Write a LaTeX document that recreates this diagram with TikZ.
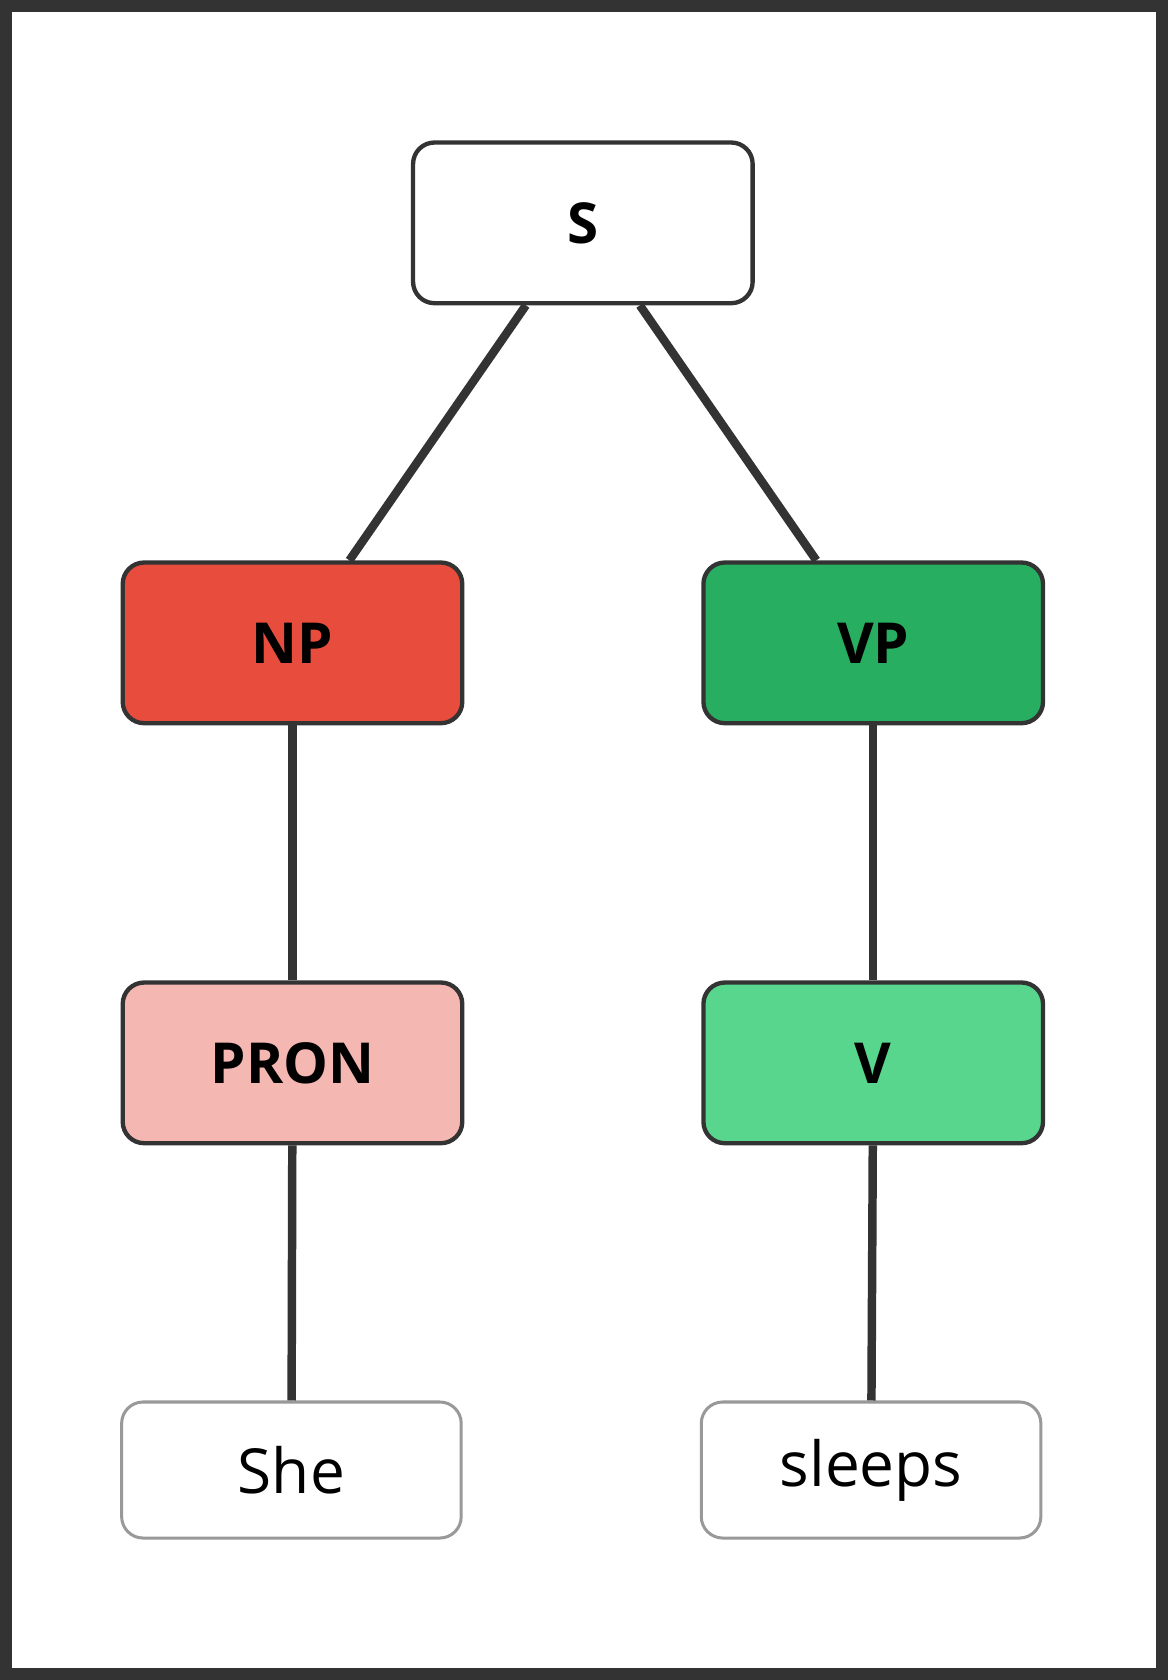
\documentclass[tikz,border=0pt]{standalone}
\usepackage{fontspec}
\setmainfont{Open Sans}
\definecolor{edgegray}{HTML}{333333}
\definecolor{leafgray}{HTML}{999999}
\definecolor{npred}{HTML}{E74C3C}
\definecolor{vpgreen}{HTML}{27AE60}
\definecolor{pronpink}{HTML}{F5B7B1}
\definecolor{vgreen}{HTML}{58D68D}
\tikzset{
  cat/.style={draw=edgegray, line width=2.3pt, rounded corners=0.4cm,
    minimum width=6.34cm, minimum height=3cm, font=\fontsize{30}{36}\selectfont\bfseries},
  leaf/.style={draw=leafgray, line width=1.6pt, rounded corners=0.4cm, fill=white,
    minimum width=6.34cm, minimum height=2.54cm, font=\fontsize{33}{40}\selectfont},
  branch/.style={draw=edgegray, line width=4.5pt}
}
\begin{document}
\begin{tikzpicture}[x=0.02cm, y=-0.02cm]
	\fill[edgegray] (0,0) rectangle (1090,1568);
	\fill[white] (11,11) rectangle (1079,1557);
	\node[cat, fill=white]    (S)    at (544,208)  {S};
	\node[cat, fill=npred]    (NP)   at (273,600)  {NP};
	\node[cat, fill=vpgreen]  (VP)   at (815,600)  {VP};
	\node[cat, fill=pronpink] (PRON) at (273,992)  {PRON};
	\node[cat, fill=vgreen]   (V)    at (815,992)  {V};
	\node[leaf]               (she)  at (272,1372) {She};
	\node[leaf]               (sleeps) at (813,1372) {sleeps};
	\draw[branch] (S) -- (NP);
	\draw[branch] (S) -- (VP);
	\draw[branch] (NP) -- (PRON);
	\draw[branch] (VP) -- (V);
	\draw[branch] (PRON) -- (she);
	\draw[branch] (V) -- (sleeps);
\end{tikzpicture}
\end{document}
